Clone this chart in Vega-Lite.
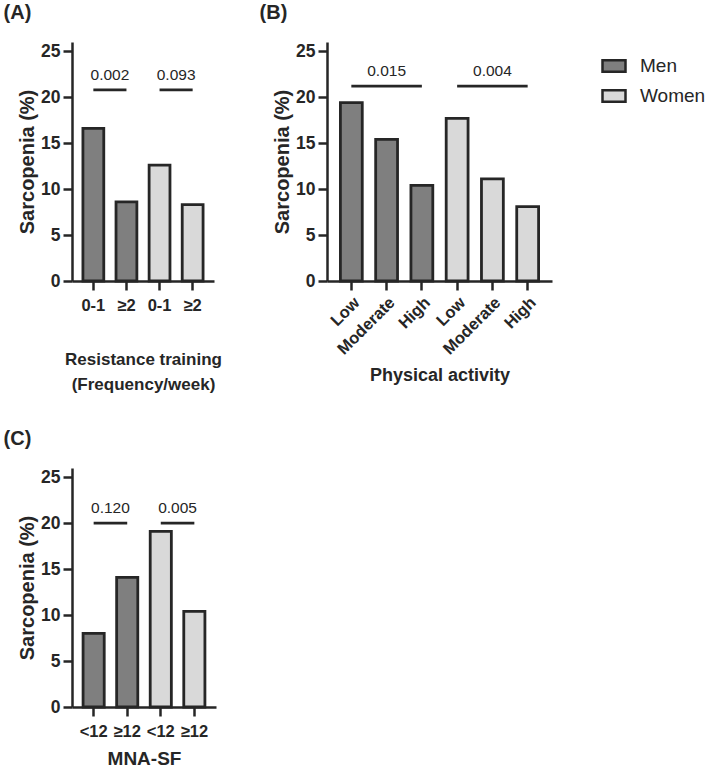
{
  "$schema": "https://vega.github.io/schema/vega-lite/v6.json",
  "background": "white",
  "padding": {"left": 3, "top": 3, "right": 0, "bottom": 0},
  "config": {
    "font": "Liberation Sans",
    "view": {"stroke": null},
    "axis": {
      "grid": false,
      "domainColor": "#262626", "domainWidth": 2.5,
      "tickColor": "#262626", "tickWidth": 2.5, "tickSize": 9,
      "labelFont": "Liberation Sans", "labelFontWeight": "bold", "labelFontSize": 16.5, "labelColor": "#262626", "labelPadding": 7,
      "titleFont": "Liberation Sans", "titleFontWeight": "bold", "titleFontSize": 18, "titleColor": "#262626"
    },
    "axisY": {"titlePadding": 3, "labelFontSize": 17.5, "labelPadding": 3, "titleFontSize": 20},
    "title": {"anchor": "start", "frame": "bounds", "fontSize": 20, "fontWeight": "bold", "color": "#262626", "offset": 19, "font": "Liberation Sans", "dx": -14}
  },
  "datasets": {
    "bars": [
      {"panel": "A", "sex": "Men", "cat": "Men|0-1", "pct": 16.6},
      {"panel": "A", "sex": "Men", "cat": "Men|≥2", "pct": 8.6},
      {"panel": "A", "sex": "Women", "cat": "Women|0-1", "pct": 12.6},
      {"panel": "A", "sex": "Women", "cat": "Women|≥2", "pct": 8.3},
      {"panel": "B", "sex": "Men", "cat": "Men|Low", "pct": 19.4},
      {"panel": "B", "sex": "Men", "cat": "Men|Moderate", "pct": 15.4},
      {"panel": "B", "sex": "Men", "cat": "Men|High", "pct": 10.4},
      {"panel": "B", "sex": "Women", "cat": "Women|Low", "pct": 17.7},
      {"panel": "B", "sex": "Women", "cat": "Women|Moderate", "pct": 11.1},
      {"panel": "B", "sex": "Women", "cat": "Women|High", "pct": 8.1},
      {"panel": "C", "sex": "Men", "cat": "Men|<12", "pct": 8.0},
      {"panel": "C", "sex": "Men", "cat": "Men|≥12", "pct": 14.1},
      {"panel": "C", "sex": "Women", "cat": "Women|<12", "pct": 19.1},
      {"panel": "C", "sex": "Women", "cat": "Women|≥12", "pct": 10.4}
    ],
    "sig": [
      {"panel": "A", "x1": "Men|0-1", "x2": "Men|≥2", "xm": "Men|0-1", "y": 20.8, "p": "0.002"},
      {"panel": "A", "x1": "Women|0-1", "x2": "Women|≥2", "xm": "Women|0-1", "y": 20.8, "p": "0.093"},
      {"panel": "B", "x1": "Men|Low", "x2": "Men|High", "xm": "Men|Moderate", "y": 21.2, "p": "0.015"},
      {"panel": "B", "x1": "Women|Low", "x2": "Women|High", "xm": "Women|Moderate", "y": 21.2, "p": "0.004"},
      {"panel": "C", "x1": "Men|<12", "x2": "Men|≥12", "xm": "Men|<12", "y": 20.0, "p": "0.120"},
      {"panel": "C", "x1": "Women|<12", "x2": "Women|≥12", "xm": "Women|<12", "y": 20.0, "p": "0.005"}
    ]
  },
  "resolve": {"scale": {"fill": "independent"}, "legend": {"fill": "independent"}},
  "spacing": 37,
  "vconcat": [
    {
      "hconcat": [
        {
          "title": {"text": "(A)"},
          "width": 142, "height": 239,
          "layer": [
            {
              "data": {"name": "bars"},
              "transform": [{"filter": "datum.panel === 'A'"}],
              "mark": {"type": "bar", "stroke": "#262626", "strokeWidth": 2.8},
              "encoding": {
                "x": {"field": "cat", "type": "nominal",
                  "scale": {"domain": ["Men|0-1", "Men|≥2", "Women|0-1", "Women|≥2"], "paddingInner": 0.37, "paddingOuter": 0.33},
                  "axis": {"labelExpr": "split(datum.label, '|')[1]", "labelAngle": 0, "title": ["Resistance training", "(Frequency/week)"], "titleFontSize": 17, "titlePadding": 38, "titleLineHeight": 24.5}},
                "y": {"field": "pct", "type": "quantitative", "scale": {"domain": [0, 25]}, "axis": {"values": [0, 5, 10, 15, 20, 25], "title": "Sarcopenia (%)"}},
                "fill": {"field": "sex", "type": "nominal", "scale": {"domain": ["Men", "Women"], "range": ["#7f7f7f", "#d9d9d9"]}, "legend": null}
              }
            },
            {
              "data": {"name": "sig"},
              "transform": [{"filter": "datum.panel === 'A'"}],
              "mark": {"type": "rule", "strokeWidth": 2.8, "color": "#262626"},
              "encoding": {
                "x": {"field": "x1", "type": "nominal"},
                "x2": {"field": "x2"},
                "y": {"field": "y", "type": "quantitative"}
              }
            },
            {
              "data": {"name": "sig"},
              "transform": [{"filter": "datum.panel === 'A'"}],
              "mark": {"type": "text", "fontSize": 15.5, "dy": -15, "color": "#262626", "font": "Liberation Sans"},
              "encoding": {
                "x": {"field": "xm", "type": "nominal", "bandPosition": 1.294},
                "y": {"field": "y", "type": "quantitative"},
                "text": {"field": "p"}
              }
            }
          ]
        },
        {
          "title": {"text": "(B)", "dx": -13},
          "width": 225, "height": 239,
          "layer": [
            {
              "data": {"name": "bars"},
              "transform": [{"filter": "datum.panel === 'B'"}],
              "mark": {"type": "bar", "stroke": "#262626", "strokeWidth": 2.8},
              "encoding": {
                "x": {"field": "cat", "type": "nominal",
                  "scale": {"domain": ["Men|Low", "Men|Moderate", "Men|High", "Women|Low", "Women|Moderate", "Women|High"], "paddingInner": 0.38, "paddingOuter": 0.38},
                  "axis": {"labelExpr": "split(datum.label, '|')[1]", "labelAngle": -45, "labelAlign": "right", "labelBaseline": "top", "labelPadding": 4, "title": "Physical activity", "titlePadding": 9}},
                "y": {"field": "pct", "type": "quantitative", "scale": {"domain": [0, 25]}, "axis": {"values": [0, 5, 10, 15, 20, 25], "title": "Sarcopenia (%)"}},
                "fill": {"field": "sex", "type": "nominal", "scale": {"domain": ["Men", "Women"], "range": ["#7f7f7f", "#d9d9d9"]},
                  "legend": {"title": null, "orient": "none", "legendX": 274, "legendY": 11,
                    "symbolType": "M-1,-0.5L1,-0.5L1,0.5L-1,0.5Z", "symbolSize": 529, "symbolStrokeColor": "#262626", "symbolStrokeWidth": 2.5,
                    "labelFontSize": 19, "labelFont": "Liberation Sans", "labelColor": "#262626", "labelOffset": 13, "rowPadding": 6}}
              }
            },
            {
              "data": {"name": "sig"},
              "transform": [{"filter": "datum.panel === 'B'"}],
              "mark": {"type": "rule", "strokeWidth": 2.8, "color": "#262626"},
              "encoding": {
                "x": {"field": "x1", "type": "nominal"},
                "x2": {"field": "x2"},
                "y": {"field": "y", "type": "quantitative"}
              }
            },
            {
              "data": {"name": "sig"},
              "transform": [{"filter": "datum.panel === 'B'"}],
              "mark": {"type": "text", "fontSize": 15.5, "dy": -15, "color": "#262626", "font": "Liberation Sans"},
              "encoding": {
                "x": {"field": "xm", "type": "nominal"},
                "y": {"field": "y", "type": "quantitative"},
                "text": {"field": "p"}
              }
            }
          ]
        }
      ],
      "spacing": 37,
      "resolve": {"scale": {"fill": "independent"}, "legend": {"fill": "independent"}}
    },
    {
      "title": {"text": "(C)"},
      "width": 144, "height": 239,
      "layer": [
        {
          "data": {"name": "bars"},
          "transform": [{"filter": "datum.panel === 'C'"}],
          "mark": {"type": "bar", "stroke": "#262626", "strokeWidth": 2.8},
          "encoding": {
            "x": {"field": "cat", "type": "nominal",
              "scale": {"domain": ["Men|<12", "Men|≥12", "Women|<12", "Women|≥12"], "paddingInner": 0.37, "paddingOuter": 0.33},
              "axis": {"labelExpr": "split(datum.label, '|')[1]", "labelAngle": 0, "title": "MNA-SF", "titleFontSize": 19, "titlePadding": 10}},
            "y": {"field": "pct", "type": "quantitative", "scale": {"domain": [0, 25]}, "axis": {"values": [0, 5, 10, 15, 20, 25], "title": "Sarcopenia (%)"}},
            "fill": {"field": "sex", "type": "nominal", "scale": {"domain": ["Men", "Women"], "range": ["#7f7f7f", "#d9d9d9"]}, "legend": null}
          }
        },
        {
          "data": {"name": "sig"},
          "transform": [{"filter": "datum.panel === 'C'"}],
          "mark": {"type": "rule", "strokeWidth": 2.8, "color": "#262626"},
          "encoding": {
            "x": {"field": "x1", "type": "nominal"},
            "x2": {"field": "x2"},
            "y": {"field": "y", "type": "quantitative"}
          }
        },
        {
          "data": {"name": "sig"},
          "transform": [{"filter": "datum.panel === 'C'"}],
          "mark": {"type": "text", "fontSize": 15.5, "dy": -15, "color": "#262626", "font": "Liberation Sans"},
          "encoding": {
            "x": {"field": "xm", "type": "nominal", "bandPosition": 1.294},
            "y": {"field": "y", "type": "quantitative"},
            "text": {"field": "p"}
          }
        }
      ]
    }
  ]
}
